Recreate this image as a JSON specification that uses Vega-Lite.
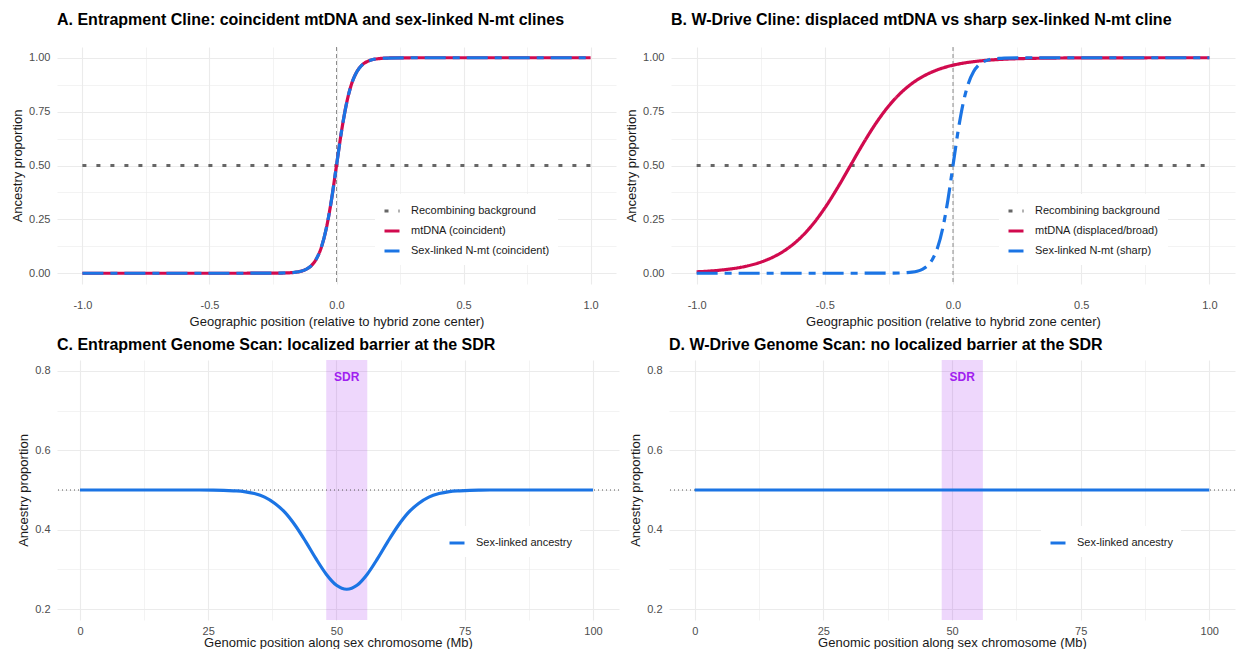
{
  "$schema": "https://vega.github.io/schema/vega-lite/v6.json",
  "background": "white",
  "padding": {"left": 11, "top": 11, "right": 2, "bottom": 0},
  "datasets": {
    "a": [
      {"x": -1, "p": 0.5, "s": "Recombining background"},
      {"x": 1, "p": 0.5, "s": "Recombining background"},
      {"x": -1, "p": 0, "s": "mtDNA (coincident)"},
      {"x": -0.8, "p": 0, "s": "mtDNA (coincident)"},
      {"x": -0.6, "p": 0, "s": "mtDNA (coincident)"},
      {"x": -0.4, "p": 0, "s": "mtDNA (coincident)"},
      {"x": -0.3, "p": 0.00005, "s": "mtDNA (coincident)"},
      {"x": -0.25, "p": 0.0002, "s": "mtDNA (coincident)"},
      {"x": -0.2, "p": 0.0013, "s": "mtDNA (coincident)"},
      {"x": -0.18, "p": 0.0025, "s": "mtDNA (coincident)"},
      {"x": -0.16, "p": 0.0048, "s": "mtDNA (coincident)"},
      {"x": -0.14, "p": 0.0093, "s": "mtDNA (coincident)"},
      {"x": -0.12, "p": 0.018, "s": "mtDNA (coincident)"},
      {"x": -0.1, "p": 0.034, "s": "mtDNA (coincident)"},
      {"x": -0.08, "p": 0.065, "s": "mtDNA (coincident)"},
      {"x": -0.06, "p": 0.119, "s": "mtDNA (coincident)"},
      {"x": -0.04, "p": 0.209, "s": "mtDNA (coincident)"},
      {"x": -0.02, "p": 0.339, "s": "mtDNA (coincident)"},
      {"x": 0, "p": 0.5, "s": "mtDNA (coincident)"},
      {"x": 0.02, "p": 0.661, "s": "mtDNA (coincident)"},
      {"x": 0.04, "p": 0.791, "s": "mtDNA (coincident)"},
      {"x": 0.06, "p": 0.881, "s": "mtDNA (coincident)"},
      {"x": 0.08, "p": 0.935, "s": "mtDNA (coincident)"},
      {"x": 0.1, "p": 0.966, "s": "mtDNA (coincident)"},
      {"x": 0.12, "p": 0.982, "s": "mtDNA (coincident)"},
      {"x": 0.14, "p": 0.991, "s": "mtDNA (coincident)"},
      {"x": 0.16, "p": 0.995, "s": "mtDNA (coincident)"},
      {"x": 0.18, "p": 0.9975, "s": "mtDNA (coincident)"},
      {"x": 0.2, "p": 0.9987, "s": "mtDNA (coincident)"},
      {"x": 0.25, "p": 0.9998, "s": "mtDNA (coincident)"},
      {"x": 0.3, "p": 1, "s": "mtDNA (coincident)"},
      {"x": 0.4, "p": 1, "s": "mtDNA (coincident)"},
      {"x": 0.6, "p": 1, "s": "mtDNA (coincident)"},
      {"x": 0.8, "p": 1, "s": "mtDNA (coincident)"},
      {"x": 1, "p": 1, "s": "mtDNA (coincident)"},
      {"x": -1, "p": 0, "s": "Sex-linked N-mt (coincident)"},
      {"x": -0.8, "p": 0, "s": "Sex-linked N-mt (coincident)"},
      {"x": -0.6, "p": 0, "s": "Sex-linked N-mt (coincident)"},
      {"x": -0.4, "p": 0, "s": "Sex-linked N-mt (coincident)"},
      {"x": -0.3, "p": 0.00005, "s": "Sex-linked N-mt (coincident)"},
      {"x": -0.25, "p": 0.0002, "s": "Sex-linked N-mt (coincident)"},
      {"x": -0.2, "p": 0.0013, "s": "Sex-linked N-mt (coincident)"},
      {"x": -0.18, "p": 0.0025, "s": "Sex-linked N-mt (coincident)"},
      {"x": -0.16, "p": 0.0048, "s": "Sex-linked N-mt (coincident)"},
      {"x": -0.14, "p": 0.0093, "s": "Sex-linked N-mt (coincident)"},
      {"x": -0.12, "p": 0.018, "s": "Sex-linked N-mt (coincident)"},
      {"x": -0.1, "p": 0.034, "s": "Sex-linked N-mt (coincident)"},
      {"x": -0.08, "p": 0.065, "s": "Sex-linked N-mt (coincident)"},
      {"x": -0.06, "p": 0.119, "s": "Sex-linked N-mt (coincident)"},
      {"x": -0.04, "p": 0.209, "s": "Sex-linked N-mt (coincident)"},
      {"x": -0.02, "p": 0.339, "s": "Sex-linked N-mt (coincident)"},
      {"x": 0, "p": 0.5, "s": "Sex-linked N-mt (coincident)"},
      {"x": 0.02, "p": 0.661, "s": "Sex-linked N-mt (coincident)"},
      {"x": 0.04, "p": 0.791, "s": "Sex-linked N-mt (coincident)"},
      {"x": 0.06, "p": 0.881, "s": "Sex-linked N-mt (coincident)"},
      {"x": 0.08, "p": 0.935, "s": "Sex-linked N-mt (coincident)"},
      {"x": 0.1, "p": 0.966, "s": "Sex-linked N-mt (coincident)"},
      {"x": 0.12, "p": 0.982, "s": "Sex-linked N-mt (coincident)"},
      {"x": 0.14, "p": 0.991, "s": "Sex-linked N-mt (coincident)"},
      {"x": 0.16, "p": 0.995, "s": "Sex-linked N-mt (coincident)"},
      {"x": 0.18, "p": 0.9975, "s": "Sex-linked N-mt (coincident)"},
      {"x": 0.2, "p": 0.9987, "s": "Sex-linked N-mt (coincident)"},
      {"x": 0.25, "p": 0.9998, "s": "Sex-linked N-mt (coincident)"},
      {"x": 0.3, "p": 1, "s": "Sex-linked N-mt (coincident)"},
      {"x": 0.4, "p": 1, "s": "Sex-linked N-mt (coincident)"},
      {"x": 0.6, "p": 1, "s": "Sex-linked N-mt (coincident)"},
      {"x": 0.8, "p": 1, "s": "Sex-linked N-mt (coincident)"},
      {"x": 1, "p": 1, "s": "Sex-linked N-mt (coincident)"}
    ],
    "b": [
      {"x": -1, "p": 0.5, "s": "Recombining background"},
      {"x": 1, "p": 0.5, "s": "Recombining background"},
      {"x": -1, "p": 0.0067, "s": "mtDNA (displaced/broad)"},
      {"x": -0.95, "p": 0.0101, "s": "mtDNA (displaced/broad)"},
      {"x": -0.9, "p": 0.0153, "s": "mtDNA (displaced/broad)"},
      {"x": -0.85, "p": 0.023, "s": "mtDNA (displaced/broad)"},
      {"x": -0.8, "p": 0.0344, "s": "mtDNA (displaced/broad)"},
      {"x": -0.75, "p": 0.0514, "s": "mtDNA (displaced/broad)"},
      {"x": -0.7, "p": 0.0759, "s": "mtDNA (displaced/broad)"},
      {"x": -0.65, "p": 0.1107, "s": "mtDNA (displaced/broad)"},
      {"x": -0.6, "p": 0.1589, "s": "mtDNA (displaced/broad)"},
      {"x": -0.55, "p": 0.2227, "s": "mtDNA (displaced/broad)"},
      {"x": -0.5, "p": 0.3029, "s": "mtDNA (displaced/broad)"},
      {"x": -0.45, "p": 0.3973, "s": "mtDNA (displaced/broad)"},
      {"x": -0.4, "p": 0.5, "s": "mtDNA (displaced/broad)"},
      {"x": -0.35, "p": 0.6027, "s": "mtDNA (displaced/broad)"},
      {"x": -0.3, "p": 0.6971, "s": "mtDNA (displaced/broad)"},
      {"x": -0.25, "p": 0.7773, "s": "mtDNA (displaced/broad)"},
      {"x": -0.2, "p": 0.8411, "s": "mtDNA (displaced/broad)"},
      {"x": -0.15, "p": 0.8893, "s": "mtDNA (displaced/broad)"},
      {"x": -0.1, "p": 0.9241, "s": "mtDNA (displaced/broad)"},
      {"x": -0.05, "p": 0.9486, "s": "mtDNA (displaced/broad)"},
      {"x": 0, "p": 0.9656, "s": "mtDNA (displaced/broad)"},
      {"x": 0.05, "p": 0.977, "s": "mtDNA (displaced/broad)"},
      {"x": 0.1, "p": 0.9847, "s": "mtDNA (displaced/broad)"},
      {"x": 0.15, "p": 0.9899, "s": "mtDNA (displaced/broad)"},
      {"x": 0.2, "p": 0.9933, "s": "mtDNA (displaced/broad)"},
      {"x": 0.25, "p": 0.9956, "s": "mtDNA (displaced/broad)"},
      {"x": 0.3, "p": 0.9971, "s": "mtDNA (displaced/broad)"},
      {"x": 0.35, "p": 0.9981, "s": "mtDNA (displaced/broad)"},
      {"x": 0.4, "p": 0.9988, "s": "mtDNA (displaced/broad)"},
      {"x": 0.5, "p": 0.9994, "s": "mtDNA (displaced/broad)"},
      {"x": 0.6, "p": 0.9998, "s": "mtDNA (displaced/broad)"},
      {"x": 0.8, "p": 1, "s": "mtDNA (displaced/broad)"},
      {"x": 1, "p": 1, "s": "mtDNA (displaced/broad)"},
      {"x": -1, "p": 0, "s": "Sex-linked N-mt (sharp)"},
      {"x": -0.8, "p": 0, "s": "Sex-linked N-mt (sharp)"},
      {"x": -0.6, "p": 0, "s": "Sex-linked N-mt (sharp)"},
      {"x": -0.4, "p": 0, "s": "Sex-linked N-mt (sharp)"},
      {"x": -0.3, "p": 0.00005, "s": "Sex-linked N-mt (sharp)"},
      {"x": -0.25, "p": 0.0002, "s": "Sex-linked N-mt (sharp)"},
      {"x": -0.2, "p": 0.0013, "s": "Sex-linked N-mt (sharp)"},
      {"x": -0.18, "p": 0.0025, "s": "Sex-linked N-mt (sharp)"},
      {"x": -0.16, "p": 0.0048, "s": "Sex-linked N-mt (sharp)"},
      {"x": -0.14, "p": 0.0093, "s": "Sex-linked N-mt (sharp)"},
      {"x": -0.12, "p": 0.018, "s": "Sex-linked N-mt (sharp)"},
      {"x": -0.1, "p": 0.034, "s": "Sex-linked N-mt (sharp)"},
      {"x": -0.08, "p": 0.065, "s": "Sex-linked N-mt (sharp)"},
      {"x": -0.06, "p": 0.119, "s": "Sex-linked N-mt (sharp)"},
      {"x": -0.04, "p": 0.209, "s": "Sex-linked N-mt (sharp)"},
      {"x": -0.02, "p": 0.339, "s": "Sex-linked N-mt (sharp)"},
      {"x": 0, "p": 0.5, "s": "Sex-linked N-mt (sharp)"},
      {"x": 0.02, "p": 0.661, "s": "Sex-linked N-mt (sharp)"},
      {"x": 0.04, "p": 0.791, "s": "Sex-linked N-mt (sharp)"},
      {"x": 0.06, "p": 0.881, "s": "Sex-linked N-mt (sharp)"},
      {"x": 0.08, "p": 0.935, "s": "Sex-linked N-mt (sharp)"},
      {"x": 0.1, "p": 0.966, "s": "Sex-linked N-mt (sharp)"},
      {"x": 0.12, "p": 0.982, "s": "Sex-linked N-mt (sharp)"},
      {"x": 0.14, "p": 0.991, "s": "Sex-linked N-mt (sharp)"},
      {"x": 0.16, "p": 0.995, "s": "Sex-linked N-mt (sharp)"},
      {"x": 0.18, "p": 0.9975, "s": "Sex-linked N-mt (sharp)"},
      {"x": 0.2, "p": 0.9987, "s": "Sex-linked N-mt (sharp)"},
      {"x": 0.25, "p": 0.9998, "s": "Sex-linked N-mt (sharp)"},
      {"x": 0.3, "p": 1, "s": "Sex-linked N-mt (sharp)"},
      {"x": 0.4, "p": 1, "s": "Sex-linked N-mt (sharp)"},
      {"x": 0.6, "p": 1, "s": "Sex-linked N-mt (sharp)"},
      {"x": 0.8, "p": 1, "s": "Sex-linked N-mt (sharp)"},
      {"x": 1, "p": 1, "s": "Sex-linked N-mt (sharp)"}
    ],
    "c": [
      {"x": 0, "p": 0.5, "s": "Sex-linked ancestry"},
      {"x": 10, "p": 0.5, "s": "Sex-linked ancestry"},
      {"x": 20, "p": 0.5, "s": "Sex-linked ancestry"},
      {"x": 26, "p": 0.4998, "s": "Sex-linked ancestry"},
      {"x": 28, "p": 0.4993, "s": "Sex-linked ancestry"},
      {"x": 30, "p": 0.498, "s": "Sex-linked ancestry"},
      {"x": 32, "p": 0.496, "s": "Sex-linked ancestry"},
      {"x": 34, "p": 0.491, "s": "Sex-linked ancestry"},
      {"x": 36, "p": 0.482, "s": "Sex-linked ancestry"},
      {"x": 38, "p": 0.466, "s": "Sex-linked ancestry"},
      {"x": 40, "p": 0.443, "s": "Sex-linked ancestry"},
      {"x": 42, "p": 0.41, "s": "Sex-linked ancestry"},
      {"x": 44, "p": 0.37, "s": "Sex-linked ancestry"},
      {"x": 46, "p": 0.327, "s": "Sex-linked ancestry"},
      {"x": 48, "p": 0.288, "s": "Sex-linked ancestry"},
      {"x": 50, "p": 0.26, "s": "Sex-linked ancestry"},
      {"x": 52, "p": 0.25, "s": "Sex-linked ancestry"},
      {"x": 54, "p": 0.26, "s": "Sex-linked ancestry"},
      {"x": 56, "p": 0.288, "s": "Sex-linked ancestry"},
      {"x": 58, "p": 0.327, "s": "Sex-linked ancestry"},
      {"x": 60, "p": 0.37, "s": "Sex-linked ancestry"},
      {"x": 62, "p": 0.41, "s": "Sex-linked ancestry"},
      {"x": 64, "p": 0.443, "s": "Sex-linked ancestry"},
      {"x": 66, "p": 0.466, "s": "Sex-linked ancestry"},
      {"x": 68, "p": 0.482, "s": "Sex-linked ancestry"},
      {"x": 70, "p": 0.491, "s": "Sex-linked ancestry"},
      {"x": 72, "p": 0.496, "s": "Sex-linked ancestry"},
      {"x": 74, "p": 0.498, "s": "Sex-linked ancestry"},
      {"x": 76, "p": 0.4993, "s": "Sex-linked ancestry"},
      {"x": 78, "p": 0.4998, "s": "Sex-linked ancestry"},
      {"x": 80, "p": 0.5, "s": "Sex-linked ancestry"},
      {"x": 90, "p": 0.5, "s": "Sex-linked ancestry"},
      {"x": 100, "p": 0.5, "s": "Sex-linked ancestry"}
    ],
    "d": [
      {"x": 0, "p": 0.5, "s": "Sex-linked ancestry"},
      {"x": 50, "p": 0.5, "s": "Sex-linked ancestry"},
      {"x": 100, "p": 0.5, "s": "Sex-linked ancestry"}
    ],
    "sdr": [
      {"start": 48, "end": 56, "mid": 52, "ly": 0.784, "label": "SDR"}
    ],
    "center": [{"x0": 0}],
    "half": [{"y0": 0.5}]
  },
  "spacing": 9,
  "resolve": {
    "scale": {"color": "independent", "strokeDash": "independent", "x": "independent", "y": "independent"},
    "legend": {"color": "independent", "strokeDash": "independent"}
  },
  "vconcat": [
    {
      "spacing": 9,
      "resolve": {
        "scale": {"color": "independent", "strokeDash": "independent", "x": "independent", "y": "independent"},
        "legend": {"color": "independent", "strokeDash": "independent"}
      },
      "hconcat": [
        {
          "width": 559,
          "height": 237,
          "title": {"text": "A. Entrapment Cline: coincident mtDNA and sex-linked N-mt clines", "offset": 19},
          "layer": [
            {
              "data": {"name": "center"},
              "mark": {"type": "rule", "color": "#808080", "strokeDash": [4, 3], "strokeWidth": 0.9},
              "encoding": {
                "x": {"field": "x0", "type": "quantitative", "scale": {"domain": [-1.1, 1.1], "nice": false, "zero": false},
                  "axis": {"title": "Geographic position (relative to hybrid zone center)", "labelPadding": 15, "titlePadding": 5, "values": [-1, -0.75, -0.5, -0.25, 0, 0.25, 0.5, 0.75, 1], "labelExpr": "abs(datum.value*2 - round(datum.value*2)) > 0.01 ? '' : replace(format(datum.value, '.1f'), '\u2212', '-')", "gridWidth": {"condition": {"test": "abs(datum.value*2 - round(datum.value*2)) > 0.01", "value": 0.6}, "value": 1.1}}}
              }
            },
            {
              "data": {"name": "a"},
              "encoding": {
                "x": {"field": "x", "type": "quantitative", "scale": {"domain": [-1.1, 1.1], "nice": false, "zero": false},
                  "axis": {"title": "Geographic position (relative to hybrid zone center)", "labelPadding": 15, "titlePadding": 5, "values": [-1, -0.75, -0.5, -0.25, 0, 0.25, 0.5, 0.75, 1], "labelExpr": "abs(datum.value*2 - round(datum.value*2)) > 0.01 ? '' : replace(format(datum.value, '.1f'), '\u2212', '-')", "gridWidth": {"condition": {"test": "abs(datum.value*2 - round(datum.value*2)) > 0.01", "value": 0.6}, "value": 1.1}}},
                "y": {"field": "p", "type": "quantitative", "scale": {"domain": [-0.05, 1.05], "nice": false, "zero": false},
                  "axis": {"title": "Ancestry proportion", "values": [0, 0.125, 0.25, 0.375, 0.5, 0.625, 0.75, 0.875, 1], "labelExpr": "abs(datum.value*4 - round(datum.value*4)) > 0.01 ? '' : format(datum.value, '.2f')", "gridWidth": {"condition": {"test": "abs(datum.value*4 - round(datum.value*4)) > 0.01", "value": 0.6}, "value": 1.1}}},
                "color": {"field": "s", "type": "nominal",
                  "scale": {"domain": ["Recombining background", "mtDNA (coincident)", "Sex-linked N-mt (coincident)"], "range": ["#666666", "#d10a4e", "#1b74e4"]},
                  "legend": {"title": null, "orient": "none", "legendX": 318, "legendY": 147}},
                "strokeDash": {"field": "s", "type": "nominal",
                  "scale": {"domain": ["Recombining background", "mtDNA (coincident)", "Sex-linked N-mt (coincident)"], "range": [[4, 10], [1, 0], [21, 7, 7, 7]]},
                  "legend": {"title": null, "orient": "none", "legendX": 318, "legendY": 147}}
              },
              "layer": [
                {"transform": [{"filter": "datum.s == 'Recombining background'"}], "mark": {"type": "line", "strokeWidth": 3, "strokeCap": "butt"}},
                {"transform": [{"filter": "datum.s == 'mtDNA (coincident)'"}], "mark": {"type": "line", "strokeWidth": 3.2, "strokeCap": "butt", "interpolate": "monotone"}},
                {"transform": [{"filter": "datum.s == 'Sex-linked N-mt (coincident)'"}], "mark": {"type": "line", "strokeWidth": 3.2, "strokeCap": "butt", "interpolate": "monotone"}}
              ]
            }
          ]
        },
        {
          "width": 564,
          "height": 237,
          "title": {"text": "B. W-Drive Cline: displaced mtDNA vs sharp sex-linked N-mt cline", "offset": 19},
          "layer": [
            {
              "data": {"name": "center"},
              "mark": {"type": "rule", "color": "#808080", "strokeDash": [4, 3], "strokeWidth": 0.9},
              "encoding": {
                "x": {"field": "x0", "type": "quantitative", "scale": {"domain": [-1.1, 1.1], "nice": false, "zero": false},
                  "axis": {"title": "Geographic position (relative to hybrid zone center)", "labelPadding": 15, "titlePadding": 5, "values": [-1, -0.75, -0.5, -0.25, 0, 0.25, 0.5, 0.75, 1], "labelExpr": "abs(datum.value*2 - round(datum.value*2)) > 0.01 ? '' : replace(format(datum.value, '.1f'), '\u2212', '-')", "gridWidth": {"condition": {"test": "abs(datum.value*2 - round(datum.value*2)) > 0.01", "value": 0.6}, "value": 1.1}}}
              }
            },
            {
              "data": {"name": "b"},
              "encoding": {
                "x": {"field": "x", "type": "quantitative", "scale": {"domain": [-1.1, 1.1], "nice": false, "zero": false},
                  "axis": {"title": "Geographic position (relative to hybrid zone center)", "labelPadding": 15, "titlePadding": 5, "values": [-1, -0.75, -0.5, -0.25, 0, 0.25, 0.5, 0.75, 1], "labelExpr": "abs(datum.value*2 - round(datum.value*2)) > 0.01 ? '' : replace(format(datum.value, '.1f'), '\u2212', '-')", "gridWidth": {"condition": {"test": "abs(datum.value*2 - round(datum.value*2)) > 0.01", "value": 0.6}, "value": 1.1}}},
                "y": {"field": "p", "type": "quantitative", "scale": {"domain": [-0.05, 1.05], "nice": false, "zero": false},
                  "axis": {"title": "Ancestry proportion", "values": [0, 0.125, 0.25, 0.375, 0.5, 0.625, 0.75, 0.875, 1], "labelExpr": "abs(datum.value*4 - round(datum.value*4)) > 0.01 ? '' : format(datum.value, '.2f')", "gridWidth": {"condition": {"test": "abs(datum.value*4 - round(datum.value*4)) > 0.01", "value": 0.6}, "value": 1.1}}},
                "color": {"field": "s", "type": "nominal",
                  "scale": {"domain": ["Recombining background", "mtDNA (displaced/broad)", "Sex-linked N-mt (sharp)"], "range": ["#666666", "#d10a4e", "#1b74e4"]},
                  "legend": {"title": null, "orient": "none", "legendX": 328, "legendY": 147}},
                "strokeDash": {"field": "s", "type": "nominal",
                  "scale": {"domain": ["Recombining background", "mtDNA (displaced/broad)", "Sex-linked N-mt (sharp)"], "range": [[4, 10], [1, 0], [21, 7, 7, 7]]},
                  "legend": {"title": null, "orient": "none", "legendX": 328, "legendY": 147}}
              },
              "layer": [
                {"transform": [{"filter": "datum.s == 'Recombining background'"}], "mark": {"type": "line", "strokeWidth": 3, "strokeCap": "butt"}},
                {"transform": [{"filter": "datum.s == 'mtDNA (displaced/broad)'"}], "mark": {"type": "line", "strokeWidth": 3.2, "strokeCap": "butt", "interpolate": "monotone"}},
                {"transform": [{"filter": "datum.s == 'Sex-linked N-mt (sharp)'"}], "mark": {"type": "line", "strokeWidth": 3.2, "strokeCap": "butt", "interpolate": "monotone"}}
              ]
            }
          ]
        }
      ]
    },
    {
      "spacing": 9,
      "resolve": {
        "scale": {"color": "independent", "x": "independent", "y": "independent"},
        "legend": {"color": "independent"}
      },
      "hconcat": [
        {
          "width": 562,
          "height": 260,
          "title": {"text": "C. Entrapment Genome Scan: localized barrier at the SDR", "offset": 7},
          "layer": [
            {
              "data": {"name": "sdr"},
              "mark": {"type": "rect", "color": "#a020f0", "opacity": 0.18},
              "encoding": {
                "x": {"field": "start", "type": "quantitative", "scale": {"domain": [-4.48, 105.07], "nice": false, "zero": false},
                  "axis": {"title": "Genomic position along sex chromosome (Mb)", "labelPadding": 5, "titlePadding": 0, "values": [0, 12.5, 25, 37.5, 50, 62.5, 75, 87.5, 100], "labelExpr": "datum.value % 25 != 0 ? '' : format(datum.value, 'd')", "gridWidth": {"condition": {"test": "datum.value % 25 != 0", "value": 0.6}, "value": 1.1}}},
                "x2": {"field": "end"}
              }
            },
            {
              "data": {"name": "half"},
              "mark": {"type": "rule", "color": "#555555", "strokeDash": [1, 3], "strokeWidth": 1},
              "encoding": {
                "y": {"field": "y0", "type": "quantitative", "scale": {"domain": [0.1725, 0.8275], "nice": false, "zero": false},
                  "axis": {"title": "Ancestry proportion", "values": [0.2, 0.3, 0.4, 0.5, 0.6, 0.7, 0.8], "labelExpr": "abs(datum.value*5 - round(datum.value*5)) > 0.01 ? '' : format(datum.value, '.1f')", "gridWidth": {"condition": {"test": "abs(datum.value*5 - round(datum.value*5)) > 0.01", "value": 0.6}, "value": 1.1}}}
              }
            },
            {
              "data": {"name": "c"},
              "mark": {"type": "line", "strokeWidth": 3.2, "interpolate": "monotone"},
              "encoding": {
                "x": {"field": "x", "type": "quantitative"},
                "y": {"field": "p", "type": "quantitative"},
                "color": {"field": "s", "type": "nominal", "scale": {"domain": ["Sex-linked ancestry"], "range": ["#1b74e4"]},
                  "legend": {"title": null, "orient": "none", "legendX": 383, "legendY": 166}}
              }
            },
            {
              "data": {"name": "sdr"},
              "mark": {"type": "text", "fontWeight": "bold", "fontSize": 12, "color": "#a020f0", "baseline": "middle"},
              "encoding": {
                "x": {"field": "mid", "type": "quantitative"},
                "y": {"field": "ly", "type": "quantitative"},
                "text": {"field": "label"}
              }
            }
          ]
        },
        {
          "width": 566,
          "height": 260,
          "title": {"text": "D. W-Drive Genome Scan: no localized barrier at the SDR", "offset": 7},
          "layer": [
            {
              "data": {"name": "sdr"},
              "mark": {"type": "rect", "color": "#a020f0", "opacity": 0.18},
              "encoding": {
                "x": {"field": "start", "type": "quantitative", "scale": {"domain": [-5, 105], "nice": false, "zero": false},
                  "axis": {"title": "Genomic position along sex chromosome (Mb)", "labelPadding": 5, "titlePadding": 0, "values": [0, 12.5, 25, 37.5, 50, 62.5, 75, 87.5, 100], "labelExpr": "datum.value % 25 != 0 ? '' : format(datum.value, 'd')", "gridWidth": {"condition": {"test": "datum.value % 25 != 0", "value": 0.6}, "value": 1.1}}},
                "x2": {"field": "end"}
              }
            },
            {
              "data": {"name": "half"},
              "mark": {"type": "rule", "color": "#555555", "strokeDash": [1, 3], "strokeWidth": 1},
              "encoding": {
                "y": {"field": "y0", "type": "quantitative", "scale": {"domain": [0.1725, 0.8275], "nice": false, "zero": false},
                  "axis": {"title": "Ancestry proportion", "values": [0.2, 0.3, 0.4, 0.5, 0.6, 0.7, 0.8], "labelExpr": "abs(datum.value*5 - round(datum.value*5)) > 0.01 ? '' : format(datum.value, '.1f')", "gridWidth": {"condition": {"test": "abs(datum.value*5 - round(datum.value*5)) > 0.01", "value": 0.6}, "value": 1.1}}}
              }
            },
            {
              "data": {"name": "d"},
              "mark": {"type": "line", "strokeWidth": 3.2},
              "encoding": {
                "x": {"field": "x", "type": "quantitative"},
                "y": {"field": "p", "type": "quantitative"},
                "color": {"field": "s", "type": "nominal", "scale": {"domain": ["Sex-linked ancestry"], "range": ["#1b74e4"]},
                  "legend": {"title": null, "orient": "none", "legendX": 372, "legendY": 166}}
              }
            },
            {
              "data": {"name": "sdr"},
              "mark": {"type": "text", "fontWeight": "bold", "fontSize": 12, "color": "#a020f0", "baseline": "middle"},
              "encoding": {
                "x": {"field": "mid", "type": "quantitative"},
                "y": {"field": "ly", "type": "quantitative"},
                "text": {"field": "label"}
              }
            }
          ]
        }
      ]
    }
  ],
  "config": {
    "font": "Liberation Sans",
    "view": {"stroke": null},
    "axis": {
      "domain": false,
      "ticks": false,
      "gridColor": "#ebebeb",
      "labelColor": "#4d4d4d",
      "labelFontSize": 11,
      "labelOverlap": false,
      "labelPadding": 7,
      "titleFontSize": 13,
      "titleFontWeight": "normal",
      "titleColor": "#1a1a1a",
      "titlePadding": 4
    },
    "title": {"anchor": "start", "frame": "group", "fontSize": 16, "fontWeight": "bold", "color": "#000000"},
    "legend": {
      "labelFontSize": 11,
      "labelColor": "#1a1a1a",
      "symbolType": "stroke",
      "symbolStrokeWidth": 3,
      "symbolSize": 225,
      "fillColor": "white",
      "padding": 8,
      "rowPadding": 5,
      "labelOffset": 10
    }
  }
}
